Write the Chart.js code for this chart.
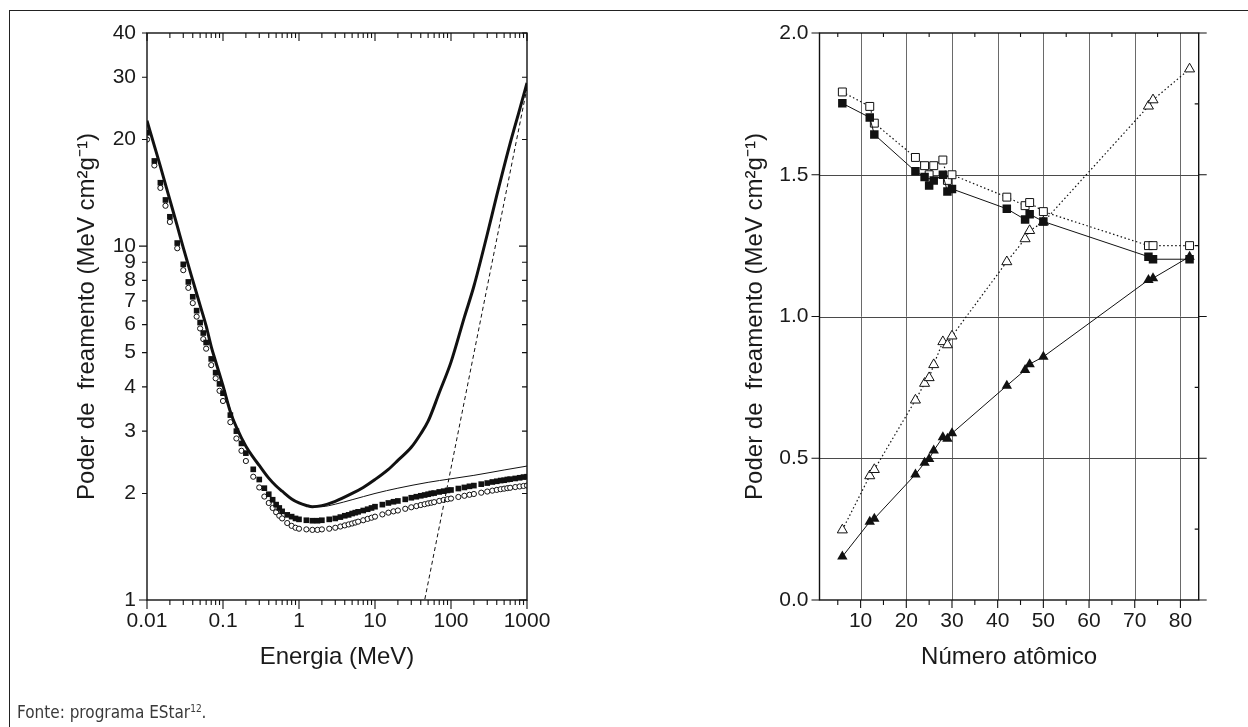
<!DOCTYPE html>
<html>
<head>
<meta charset="utf-8">
<script src="https://cdn.jsdelivr.net/npm/chart.js@4.4.1/dist/chart.umd.min.js"></script>
<style>
html, body { margin: 0; padding: 0; background: #fff; }
body { width: 1248px; height: 727px; position: relative; overflow: hidden; font-family: "Liberation Sans", Arial, sans-serif; }
#frame { position: absolute; left: 9px; top: 10px; width: 1400px; height: 900px; border-top: 1px solid #222; border-left: 1px solid #222; }
canvas { position: absolute; top: 0; }
#leftChart { left: 0; }
#rightChart { left: 624px; }
#fonte { position: absolute; left: 17px; top: 704px; font-family: "Liberation Sans Narrow", "DejaVu Sans Condensed", sans-serif; font-size: 17px; line-height: 17px; color: #3a3a3a; }
#fonte sup { font-size: 10px; vertical-align: 6px; line-height: 0; }
</style>
</head>
<body>
<div id="frame"></div>
<canvas id="leftChart" width="624" height="727"></canvas>
<canvas id="rightChart" width="624" height="727"></canvas>
<div id="fonte">Fonte: programa EStar<sup>12</sup>.</div>
<script>
Chart.defaults.font.family = "'Liberation Sans', Arial, sans-serif";

// ---- grafico da esquerda: poder de freamento x energia ----
const energyTicks = [0.01, 0.1, 1, 10, 100, 1000];
const energyTickLabels = ["0.01", "0.1", "1", "10", "100", "1000"];
const spTicks = [1, 2, 3, 4, 5, 6, 7, 8, 9, 10, 20, 30, 40];
const spTickLabels = ["1", "2", "3", "4", "5", "6", "7", "8", "9", "10", "20", "30", "40"];

// energias da tabela do EStar (MeV)
const energyMeV = [
    0.01, 0.0125, 0.015, 0.0175, 0.02, 0.025, 0.03, 0.035, 0.04, 0.045,
    0.05, 0.055, 0.06, 0.07, 0.08, 0.09, 0.1, 0.125, 0.15, 0.175,
    0.2, 0.25, 0.3, 0.35, 0.4, 0.45, 0.5, 0.55, 0.6, 0.7,
    0.8, 0.9, 1, 1.25, 1.5, 1.75, 2, 2.5, 3, 3.5,
    4, 4.5, 5, 5.5, 6, 7, 8, 9, 10, 12.5,
    15, 17.5, 20, 25, 30, 35, 40, 45, 50, 55,
    60, 70, 80, 90, 100, 125, 150, 175, 200, 250,
    300, 350, 400, 450, 500, 550, 600, 700, 800, 900, 1000
];
const filledSquareSP = [
    20.9, 17.4, 15.1, 13.5, 12.1, 10.2, 8.88, 7.92, 7.19, 6.57,
    6.08, 5.68, 5.34, 4.80, 4.39, 4.08, 3.84, 3.33, 3.00, 2.77,
    2.60, 2.34, 2.19, 2.07, 1.99, 1.92, 1.86, 1.82, 1.78, 1.74,
    1.72, 1.70, 1.69, 1.68, 1.675, 1.675, 1.68, 1.69, 1.70, 1.715,
    1.73, 1.74, 1.755, 1.765, 1.775, 1.79, 1.805, 1.82, 1.835, 1.86,
    1.88, 1.895, 1.905, 1.925, 1.945, 1.958, 1.97, 1.98, 1.99, 2.0,
    2.005, 2.02, 2.03, 2.04, 2.046, 2.065, 2.08, 2.095, 2.105, 2.125,
    2.14, 2.155, 2.165, 2.175, 2.18, 2.19, 2.195, 2.205, 2.215, 2.225, 2.23
];
const openCircleSP = [
    20.0, 16.9, 14.6, 13.0, 11.7, 9.86, 8.55, 7.62, 6.90, 6.32,
    5.85, 5.46, 5.13, 4.61, 4.23, 3.90, 3.65, 3.18, 2.86, 2.64,
    2.47, 2.23, 2.08, 1.96, 1.88, 1.82, 1.77, 1.73, 1.70, 1.65,
    1.62, 1.60, 1.59, 1.583, 1.578, 1.578, 1.583, 1.59, 1.60, 1.613,
    1.625, 1.635, 1.645, 1.655, 1.665, 1.68, 1.695, 1.708, 1.72, 1.745,
    1.765, 1.78, 1.79, 1.81, 1.828, 1.842, 1.855, 1.865, 1.875, 1.883,
    1.89, 1.905, 1.917, 1.927, 1.935, 1.955, 1.97, 1.983, 1.993, 2.01,
    2.025, 2.037, 2.047, 2.056, 2.063, 2.07, 2.075, 2.085, 2.093, 2.10, 2.106
];
// curva grossa (total)
const totalE = [0.01, 0.0125, 0.015, 0.02, 0.025, 0.03, 0.04, 0.05, 0.06, 0.07, 0.08, 0.1, 0.125, 0.15, 0.2, 0.25, 0.3, 0.4, 0.5, 0.6, 0.8, 1, 1.25, 1.5, 2, 3, 5, 7, 10, 15, 20, 30, 40, 50, 70, 100, 150, 200, 300, 400, 600, 800, 1000];
const totalSP = [22.6, 19.2, 16.8, 13.5, 11.4, 9.9, 8.0, 6.8, 5.95, 5.2, 4.72, 4.03, 3.4, 3.08, 2.72, 2.53, 2.4, 2.21, 2.1, 2.03, 1.93, 1.88, 1.85, 1.835, 1.848, 1.9, 2.0, 2.08, 2.19, 2.34, 2.48, 2.7, 2.95, 3.2, 3.85, 4.7, 6.3, 7.7, 10.8, 13.9, 19.5, 24.3, 28.9];
// curva fina (colisao)
const collE = [0.01, 0.015, 0.02, 0.03, 0.05, 0.07, 0.1, 0.15, 0.2, 0.3, 0.5, 0.8, 1, 1.5, 2, 3, 5, 10, 20, 50, 100, 200, 500, 1000];
const collSP = [22.6, 16.8, 13.5, 9.9, 6.8, 5.2, 4.03, 3.08, 2.72, 2.4, 2.1, 1.93, 1.88, 1.833, 1.835, 1.865, 1.92, 2.0, 2.07, 2.15, 2.2, 2.25, 2.33, 2.39];
// tracejada (radiativo)
const radE = [40, 200, 1000];
const radSP = [0.88, 4.97, 28.0];

// ---- grafico da direita: poder de freamento x numero atomico ----
const atomicNumber = [6, 12, 13, 22, 24, 25, 26, 28, 29, 30, 42, 46, 47, 50, 73, 74, 82];
const openSquares = [1.792, 1.741, 1.682, 1.561, 1.532, 1.50, 1.532, 1.552, 1.48, 1.50, 1.421, 1.391, 1.402, 1.37, 1.25, 1.25, 1.25];
const filledSquares = [1.752, 1.702, 1.642, 1.512, 1.492, 1.462, 1.48, 1.50, 1.441, 1.45, 1.38, 1.342, 1.361, 1.335, 1.211, 1.202, 1.202];
const openTriangles = [0.247, 0.438, 0.46, 0.705, 0.764, 0.784, 0.83, 0.911, 0.90, 0.931, 1.193, 1.274, 1.303, 1.333, 1.742, 1.764, 1.873];
const filledTriangles = [0.153, 0.276, 0.287, 0.443, 0.484, 0.497, 0.527, 0.574, 0.569, 0.588, 0.756, 0.811, 0.832, 0.858, 1.129, 1.135, 1.211];
const zTicks = [10, 20, 30, 40, 50, 60, 70, 80];
const zTickLabels = ["10", "20", "30", "40", "50", "60", "70", "80"];
const rightYTicks = [0, 0.5, 1, 1.5, 2];
const rightYTickLabels = ["0.0", "0.5", "1.0", "1.5", "2.0"];

const textColor = "#1a1a1a";
const yTitle = "Poder de  freamento (MeV cm\u00b2g\u207b\u00b9)";

function toPoints(xs, ys) {
    return xs.map((x, i) => ({ x: x, y: ys[i] }));
}

// moldura, marcas de escala e grade desenhadas sobre as escalas do Chart.js
const frameAndTicks = {
    id: "frameAndTicks",
    beforeDatasetsDraw(chart, args, opts) {
        if (!opts.grid) return;
        const { ctx, chartArea: a, scales: { x, y } } = chart;
        ctx.save();
        ctx.lineWidth = 1;
        ctx.strokeStyle = opts.grid.vColor;
        ctx.beginPath();
        opts.grid.xValues.forEach((v) => {
            const px = Math.round(x.getPixelForValue(v)) + 0.5;
            ctx.moveTo(px, a.top);
            ctx.lineTo(px, a.bottom);
        });
        ctx.stroke();
        ctx.strokeStyle = opts.grid.hColor;
        ctx.beginPath();
        opts.grid.yValues.forEach((v) => {
            const py = Math.round(y.getPixelForValue(v)) + 0.5;
            ctx.moveTo(a.left, py);
            ctx.lineTo(a.right, py);
        });
        ctx.stroke();
        ctx.restore();
    },
    afterDatasetsDraw(chart, args, opts) {
        const { ctx, chartArea: a, scales: { x, y } } = chart;
        ctx.save();
        ctx.strokeStyle = "#111";
        ctx.lineWidth = 1.4;
        ctx.strokeRect(a.left, a.top, a.right - a.left, a.bottom - a.top);
        ctx.lineWidth = 1.1;
        ctx.beginPath();
        opts.ticks.forEach((t) => {
            t.values.forEach((v) => {
                if (t.axis === "x") {
                    const px = x.getPixelForValue(v);
                    if (t.bottom) { ctx.moveTo(px, a.bottom); ctx.lineTo(px, a.bottom + t.bottom); }
                    if (t.top) { ctx.moveTo(px, a.top); ctx.lineTo(px, a.top - t.top); }
                } else {
                    const py = y.getPixelForValue(v);
                    if (t.left) { ctx.moveTo(a.left, py); ctx.lineTo(a.left - t.left, py); }
                    if (t.right) { ctx.moveTo(a.right, py); ctx.lineTo(a.right + t.right, py); }
                }
            });
        });
        ctx.stroke();
        ctx.restore();
    },
};

// marcas menores do eixo logaritmico
const energyMinor = [];
[0.01, 0.1, 1, 10, 100].forEach((d) => {
    for (let m = 2; m <= 9; m++) energyMinor.push(m * d);
});

function axisTitle(text) {
    return { display: true, text: text, color: textColor, font: { size: 24 }, padding: { top: 4, bottom: 4 } };
}
function tickFont() {
    return { size: 21 };
}

new Chart(document.getElementById("leftChart"), {
    type: "scatter",
    data: {
        datasets: [
            { data: toPoints(totalE, totalSP), showLine: true, borderColor: "#111", borderWidth: 3, pointRadius: 0, cubicInterpolationMode: "monotone" },
            { data: toPoints(collE, collSP), showLine: true, borderColor: "#111", borderWidth: 1, pointRadius: 0, cubicInterpolationMode: "monotone" },
            { data: toPoints(radE, radSP), showLine: true, borderColor: "#111", borderWidth: 1, borderDash: [4, 3], pointRadius: 0 },
            { data: toPoints(energyMeV, filledSquareSP), pointStyle: "rect", pointRadius: 4, backgroundColor: "#111", borderColor: "#111", borderWidth: 0 },
            { data: toPoints(energyMeV, openCircleSP), pointStyle: "circle", pointRadius: 2.6, backgroundColor: "#fff", borderColor: "#111", borderWidth: 1 },
        ],
    },
    options: {
        responsive: false,
        animation: false,
        events: [],
        layout: { padding: { left: 69, right: 97, top: 33, bottom: 51 } },
        plugins: {
            legend: { display: false },
            tooltip: { enabled: false },
            frameAndTicks: {
                ticks: [
                    { axis: "x", values: energyTicks, bottom: 9, top: -8 },
                    { axis: "x", values: energyMinor, bottom: 5, top: -5 },
                    { axis: "y", values: [1, 10], left: 8, right: -8 },
                    { axis: "y", values: spTicks.filter((v) => v !== 1 && v !== 10), left: 5, right: -5 },
                ],
            },
        },
        scales: {
            x: {
                type: "logarithmic",
                min: 0.01,
                max: 1000,
                grid: { display: false, drawTicks: false },
                border: { display: false },
                afterBuildTicks: (s) => { s.ticks = energyTicks.map((v) => ({ value: v })); },
                afterFit: (s) => { s.height = 76; },
                ticks: { autoSkip: false, maxRotation: 0, padding: 9, color: textColor, font: tickFont(), callback: (v, i) => energyTickLabels[i] },
                title: axisTitle("Energia (MeV)"),
            },
            y: {
                type: "logarithmic",
                min: 1,
                max: 40,
                grid: { display: false, drawTicks: false },
                border: { display: false },
                afterBuildTicks: (s) => { s.ticks = spTicks.map((v) => ({ value: v })); },
                afterFit: (s) => { s.width = 78; },
                ticks: { autoSkip: false, padding: 11, color: textColor, font: tickFont(), callback: (v, i) => spTickLabels[i] },
                title: axisTitle(yTitle),
            },
        },
    },
    plugins: [frameAndTicks],
});

new Chart(document.getElementById("rightChart"), {
    type: "scatter",
    data: {
        datasets: [
            { data: toPoints(atomicNumber, filledSquares), showLine: true, borderColor: "#111", borderWidth: 1, pointStyle: "rect", pointRadius: 6, backgroundColor: "#111", pointBorderWidth: 0 },
            { data: toPoints(atomicNumber, openSquares), showLine: true, borderColor: "#111", borderWidth: 1.2, borderDash: [1.5, 2.5], pointStyle: "rect", pointRadius: 5.6, pointBackgroundColor: "#fff", pointBorderColor: "#111", pointBorderWidth: 1 },
            { data: toPoints(atomicNumber, filledTriangles), showLine: true, borderColor: "#111", borderWidth: 1, pointStyle: "triangle", pointRadius: 6, backgroundColor: "#111", pointBorderWidth: 0 },
            { data: toPoints(atomicNumber, openTriangles), showLine: true, borderColor: "#111", borderWidth: 1.2, borderDash: [1.5, 2.5], pointStyle: "triangle", pointRadius: 5.8, pointBackgroundColor: "#fff", pointBorderColor: "#111", pointBorderWidth: 1 },
        ],
    },
    options: {
        responsive: false,
        animation: false,
        events: [],
        layout: { padding: { left: 113, right: 49.3, top: 33, bottom: 51 } },
        plugins: {
            legend: { display: false },
            tooltip: { enabled: false },
            frameAndTicks: {
                grid: { xValues: zTicks, yValues: [0.5, 1, 1.5], vColor: "#6a6a6a", hColor: "#4a4a4a" },
                ticks: [
                    { axis: "x", values: zTicks, bottom: 8 },
                    { axis: "x", values: [5, 15, 25, 35, 45, 55, 65, 75], bottom: 5, top: -4 },
                    { axis: "y", values: rightYTicks, left: 8, right: 8 },
                    { axis: "y", values: [0.25, 0.75, 1.25, 1.75], right: -4 },
                ],
            },
        },
        scales: {
            x: {
                type: "linear",
                min: 1,
                max: 84,
                grid: { display: false, drawTicks: false },
                border: { display: false },
                afterBuildTicks: (s) => { s.ticks = zTicks.map((v) => ({ value: v })); },
                afterFit: (s) => { s.height = 76; },
                ticks: { autoSkip: false, maxRotation: 0, padding: 9, color: textColor, font: tickFont(), callback: (v, i) => zTickLabels[i] },
                title: axisTitle("Número atômico"),
            },
            y: {
                type: "linear",
                min: 0,
                max: 2,
                grid: { display: false, drawTicks: false },
                border: { display: false },
                afterBuildTicks: (s) => { s.ticks = rightYTicks.map((v) => ({ value: v })); },
                afterFit: (s) => { s.width = 82.5; },
                ticks: { autoSkip: false, padding: 11, color: textColor, font: tickFont(), callback: (v, i) => rightYTickLabels[i] },
                title: axisTitle(yTitle),
            },
        },
    },
    plugins: [frameAndTicks],
});
</script>
</body>
</html>
